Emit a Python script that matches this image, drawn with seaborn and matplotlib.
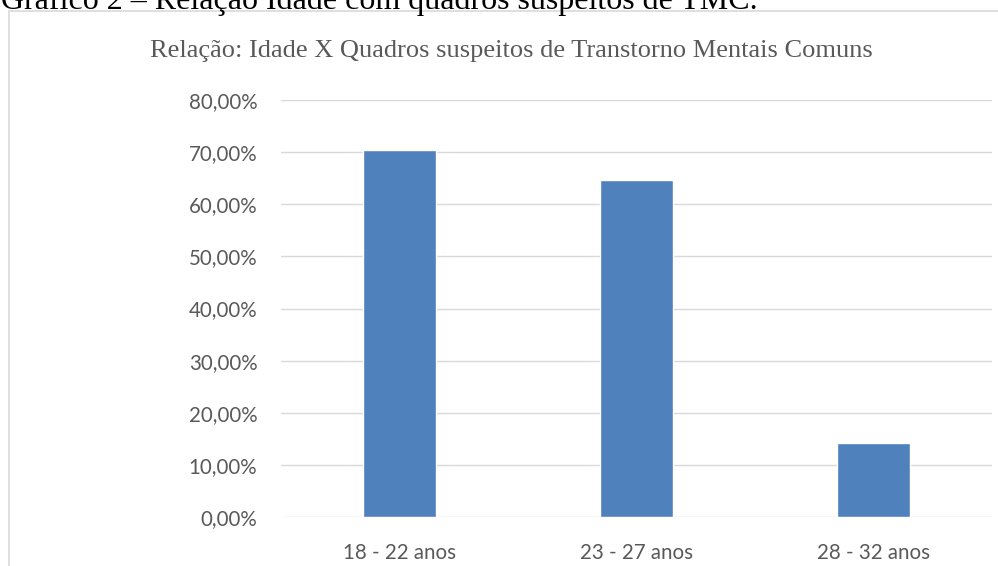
import matplotlib
matplotlib.use("Agg")
import matplotlib.pyplot as plt
import seaborn as sns
import pandas as pd
from matplotlib.patches import Rectangle
from matplotlib.ticker import FuncFormatter

categories = ["18 - 22 anos", "23 - 27 anos", "28 - 32 anos"]
values = [70.4, 64.7, 14.2]
yticks = [0, 10, 20, 30, 40, 50, 60, 70, 80]

df = pd.DataFrame({"faixa": categories, "pct": values})

sns.set_style("white")
plt.rcParams["font.family"] = ["Lato", "DejaVu Sans"]

W, H = 998, 566
fig = plt.figure(figsize=(W / 100, H / 100), dpi=100)
ax = fig.add_axes([281 / W, 1 - 517 / H, (992 - 281) / W, (517 - 100) / H])

sns.barplot(data=df, x="faixa", y="pct", color="#4F81BD", saturation=1,
            width=0.31, ax=ax, zorder=3)

ax.set_ylim(0, 80)
ax.set_yticks(yticks)
ax.yaxis.set_major_formatter(FuncFormatter(lambda v, p: f"{v:.2f}%".replace(".", ",")))
ax.grid(axis="y", color="#D9D9D9", linewidth=1.0, zorder=0)
ax.grid(axis="x", visible=False)
for s in ax.spines.values():
    s.set_visible(False)
ax.set_xlabel("")
ax.set_ylabel("")
ax.tick_params(axis="both", length=0, labelsize=14.8, labelcolor="#595959")
ax.tick_params(axis="y", pad=17)
ax.tick_params(axis="x", pad=19)

# outer chart border
fig.patches.append(Rectangle((9 / W, -0.1), 1.2, 1 - 11 / H + 0.1,
                             transform=fig.transFigure, fill=False,
                             edgecolor="#D9D9D9", linewidth=1.2))

fig.text(511 / W, 1 - 51 / H,
         "Relação: Idade X Quadros suspeitos de Transtorno Mentais Comuns",
         ha="center", va="center", fontsize=19, color="#595959",
         family=["Liberation Serif", "DejaVu Serif"])

fig.text(1 / W, 1 - 9 / H,
         "Gráfico 2 – Relação Idade com quadros suspeitos de TMC.",
         ha="left", va="baseline", fontsize=23, color="black",
         family=["Liberation Serif", "DejaVu Serif"])

fig.savefig("out.png", dpi=100)
